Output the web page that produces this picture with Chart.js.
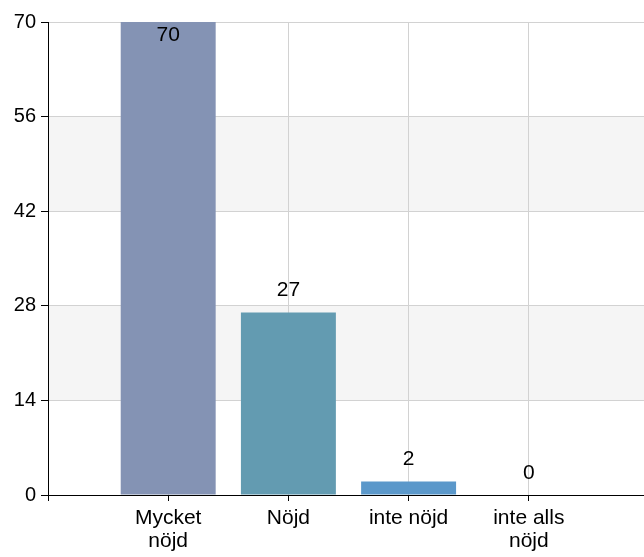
<!DOCTYPE html>
<html>
<head>
<meta charset="utf-8">
<script src="https://cdn.jsdelivr.net/npm/chart.js@4"></script>
<style>
  html, body { margin: 0; padding: 0; background: #fff; overflow: hidden; }
  #wrap { width: 655px; height: 557px; }
</style>
</head>
<body>
<div id="wrap"><canvas id="myBarChart" width="655" height="557"></canvas></div>
<script>
  // chart values
  const categories = ["", ["Mycket", "nöjd"], "Nöjd", "inte nöjd", ["inte alls", "nöjd"], ""];
  const answers = [null, 70, 27, 2, 0, null];
  const barColors = ["#8493b4", "#8493b4", "#639bb1", "#5b98ca", "#5b98ca", "#5b98ca"];
  const yTicks = [0, 14, 28, 42, 56, 70];
  const shadedBands = [[14, 28], [42, 56]];

  const FAMILY = "'Liberation Sans', Arial, sans-serif";
  const LABEL_FONT = { family: FAMILY, size: 21, lineHeight: 1.1 };
  const TICK_FONT = { family: FAMILY, size: 20 };

  // gray bands behind the grid
  const bandPlugin = {
    id: "bands",
    beforeDraw(chart) {
      const { ctx, chartArea } = chart;
      const y = chart.scales.y;
      ctx.save();
      ctx.fillStyle = "#f5f5f5";
      shadedBands.forEach(([lo, hi]) => {
        const top = y.getPixelForValue(hi);
        const bot = y.getPixelForValue(lo);
        ctx.fillRect(chartArea.left, top, chartArea.right - chartArea.left, bot - top);
      });
      ctx.restore();
    }
  };

  // numbers above the bars
  const valuePlugin = {
    id: "values",
    afterDatasetsDraw(chart) {
      const { ctx, chartArea } = chart;
      const meta = chart.getDatasetMeta(0);
      ctx.save();
      ctx.font = "21px " + FAMILY;
      ctx.fillStyle = "#000";
      ctx.textAlign = "center";
      ctx.textBaseline = "middle";
      meta.data.forEach((bar, i) => {
        if (answers[i] === null) return;
        const yy = Math.max(bar.y - 22, chartArea.top + 13);
        ctx.fillText(String(answers[i]), bar.x, yy);
      });
      ctx.restore();
    }
  };

  const ctx = document.getElementById("myBarChart");
  const chart = new Chart(ctx, {
    type: "bar",
    data: {
      labels: categories,
      datasets: [{
        data: answers,
        backgroundColor: barColors,
        borderWidth: 0,
        barPercentage: 0.79,
        categoryPercentage: 1
      }]
    },
    options: {
      responsive: false,
      animation: false,
      layout: { padding: { top: 22, right: 2, left: 0, bottom: 0 } },
      plugins: { legend: { display: false }, tooltip: { enabled: false } },
      scales: {
        x: {
          offset: false,
          grid: { color: "#d2d2d2", tickColor: "#000", tickLength: 6, offset: false },
          border: { color: "#000", width: 1 },
          ticks: { color: "#000", font: LABEL_FONT, padding: 6, maxRotation: 0, autoSkip: false },
          afterFit(s) { s.height = 62; }
        },
        y: {
          min: 0,
          max: 70,
          afterBuildTicks(s) { s.ticks = yTicks.map(v => ({ value: v })); },
          grid: { color: "#d2d2d2", tickColor: "#000", tickLength: 7 },
          border: { color: "#000", width: 1 },
          ticks: { color: "#000", font: TICK_FONT, padding: 5 },
          afterFit(s) { s.width = 48; }
        }
      }
    },
    plugins: [bandPlugin, valuePlugin]
  });
</script>
</body>
</html>
